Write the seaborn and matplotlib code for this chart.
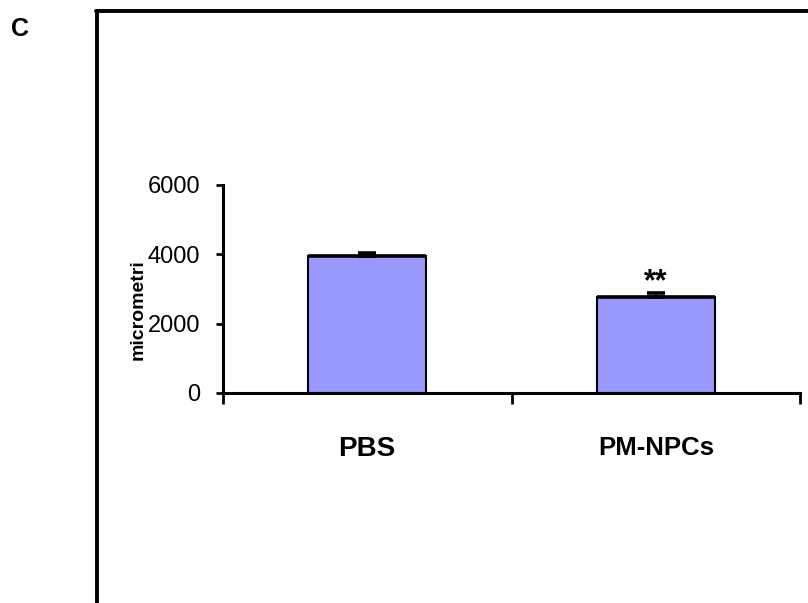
import matplotlib
matplotlib.use("Agg")
import matplotlib.pyplot as plt
import seaborn as sns
import pandas as pd
from matplotlib.lines import Line2D

groups = ["PBS", "PM-NPCs"]
means = [3960, 2780]
errors = [90, 95]
stars = ["", "**"]
yticks = [0, 2000, 4000, 6000]

sns.set_style("white")
plt.rcParams['font.family'] = ['Liberation Sans', 'DejaVu Sans']
plt.rcParams.update({'text.color': 'black', 'axes.labelcolor': 'black',
                     'xtick.color': 'black', 'ytick.color': 'black'})

df = pd.DataFrame({'group': groups, 'value': means})

fig = plt.figure(figsize=(8.08, 6.03), dpi=100)
ax = fig.add_axes([0.2754, 0.3483, 0.7153, 0.345])

sns.barplot(data=df, x='group', y='value', color='#9999FF', saturation=1,
            width=0.405, edgecolor='black', linewidth=1.5, errorbar=None, ax=ax)
# thicker top edge like the original
ax.hlines(means, [i - 0.2025 for i in range(len(groups))],
          [i + 0.2025 for i in range(len(groups))], color='black', lw=2.6, zorder=4)
ax.errorbar(range(len(groups)), means, yerr=[[0] * len(errors), errors], fmt='none',
            ecolor='black', elinewidth=1.5, capsize=6.5, capthick=2.6, zorder=5)
for i, s in enumerate(stars):
    if s:
        ax.text(i, means[i] + errors[i] + 90, s, ha='center', va='baseline',
                fontsize=22, fontweight='bold')

ax.set_xlim(-0.5, 1.5)
ax.set_ylim(0, 6000)
ax.set_yticks(yticks)
ax.set_yticklabels([str(t) for t in yticks], fontsize=17)
ax.tick_params(axis='y', direction='out', length=5, width=2, pad=11, left=True)
ax.set_xticks([-0.5, 0.5, 1.5], minor=False)
ax.set_xticklabels([])
ax.set_xticks([0, 1], minor=True)
ax.set_xticklabels(groups, minor=True, fontweight='bold')
for lab, fs in zip(ax.get_xticklabels(minor=True), [20, 18.5]):
    lab.set_fontsize(fs)
ax.tick_params(axis='x', which='major', direction='out', length=8, width=2, bottom=True)
ax.tick_params(axis='x', which='minor', length=0, pad=31)
ax.set_xlabel('')
ax.set_ylabel('micrometri', fontsize=14, fontweight='bold')
ax.yaxis.set_label_coords(-0.132, 0.4)

sns.despine(ax=ax)
for sp in ['left', 'bottom']:
    ax.spines[sp].set_linewidth(2.2)
    ax.spines[sp].set_color('black')

# panel frame and letter
fig.add_artist(Line2D([97 / 808, 97 / 808], [0, 1 - 11 / 603], color='black', lw=2.8))
fig.add_artist(Line2D([96 / 808, 1], [1 - 11 / 603, 1 - 11 / 603], color='black', lw=2.8))
fig.text(20 / 808, 1 - 29 / 603, 'C', fontsize=18, fontweight='bold', ha='center', va='center')

fig.savefig('out.png', dpi=100)
